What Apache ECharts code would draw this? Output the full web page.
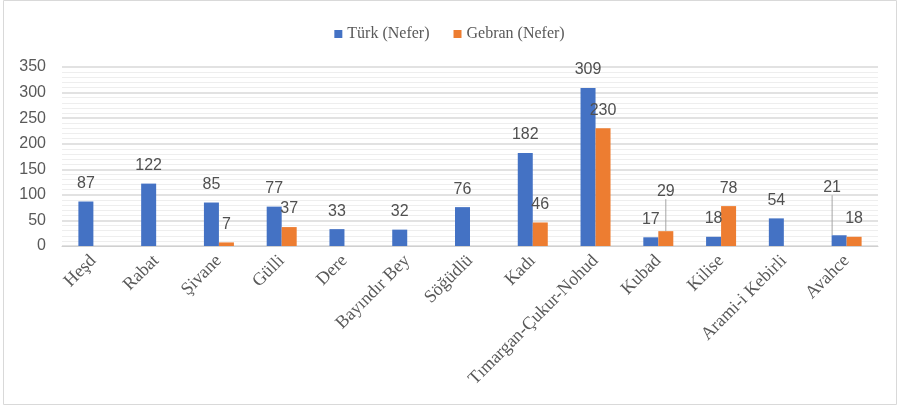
<!DOCTYPE html>
<html><head><meta charset="utf-8">
<script src="https://cdn.jsdelivr.net/npm/echarts@6/dist/echarts.min.js"></script>
<style>html,body{margin:0;padding:0;background:#fff}#c{width:899px;height:407px}</style>
</head><body><div id="c"></div>
<script>
const categories = ["Heşd","Rabat","Şivane","Gülli","Dere","Bayındır Bey","Söğüdlü","Kadı","Tımargan-Çukur-Nohud","Kubad","Kilise","Arami-i Kebirli","Avahce"];
const turk = [87,122,85,77,33,32,76,182,309,17,18,54,21];
const gebran = [null,null,7,37,null,null,null,46,230,29,78,null,18];
const seriesNames = ["Türk (Nefer)","Gebran (Nefer)"];
const yTicks = {min:0,max:350,interval:50};
// labels pulled away from their bar (with a leader line): [seriesIndex, dataIndex]
const leaderLabels = [[0,12],[1,9]];

const hasLeader = (s,i) => leaderLabels.some(l => l[0]===s && l[1]===i);
const toItems = (arr,s) => arr.map((v,i) => hasLeader(s,i)
  ? {value:v,labelLine:{show:true,lineStyle:{color:'#a6a6a6',width:1}}}
  : v);

const chart = echarts.init(document.getElementById('c'));
const labelStyle = {show:true,position:'top',distance:10,color:'#505050',fontFamily:'Liberation Sans, Arial, sans-serif',fontSize:16};
chart.setOption({
  animation:false,
  graphic:[{type:'rect',shape:{x:3.5,y:0.5,width:893,height:404},style:{fill:'none',stroke:'#d9d9d9',lineWidth:1},silent:true}],
  legend:{top:21,left:'center',itemWidth:8,itemHeight:8,itemGap:24,icon:'rect',
    textStyle:{fontFamily:'Liberation Serif, Times New Roman, serif',fontSize:16,color:'#595959'},data:seriesNames},
  grid:{left:62,right:21,top:67,bottom:161,containLabel:false},
  xAxis:{type:'category',data:categories,
    axisLine:{lineStyle:{color:'#d0d0d0'}},axisTick:{show:false},
    axisLabel:{rotate:45,interval:0,margin:12,color:'#595959',fontFamily:'Liberation Serif, Times New Roman, serif',fontSize:18}},
  yAxis:{type:'value',min:yTicks.min,max:yTicks.max,interval:yTicks.interval,
    axisLine:{show:false},axisTick:{show:false},
    axisLabel:{margin:16,color:'#595959',fontFamily:'Liberation Sans, Arial, sans-serif',fontSize:16},
    splitLine:{lineStyle:{color:'#d9d9d9',width:1.5}},
    minorTick:{show:false,splitNumber:5},
    minorSplitLine:{show:true,lineStyle:{color:'#eeeeee',width:1}}},
  series:[
    {name:seriesNames[0],type:'bar',data:toItems(turk,0),barWidth:15,barGap:'0%',itemStyle:{color:'#4472C4'},
     label:labelStyle,labelLine:{show:false},
     labelLayout:function(p){ return hasLeader(0,p.dataIndex) ? {dx:-7,dy:-30} : {}; }},
    {name:seriesNames[1],type:'bar',data:toItems(gebran,1),barWidth:15,itemStyle:{color:'#ED7D31'},
     label:labelStyle,labelLine:{show:false},
     labelLayout:function(p){ return hasLeader(1,p.dataIndex) ? {dy:-22} : {}; }}
  ]
});
</script></body></html>
